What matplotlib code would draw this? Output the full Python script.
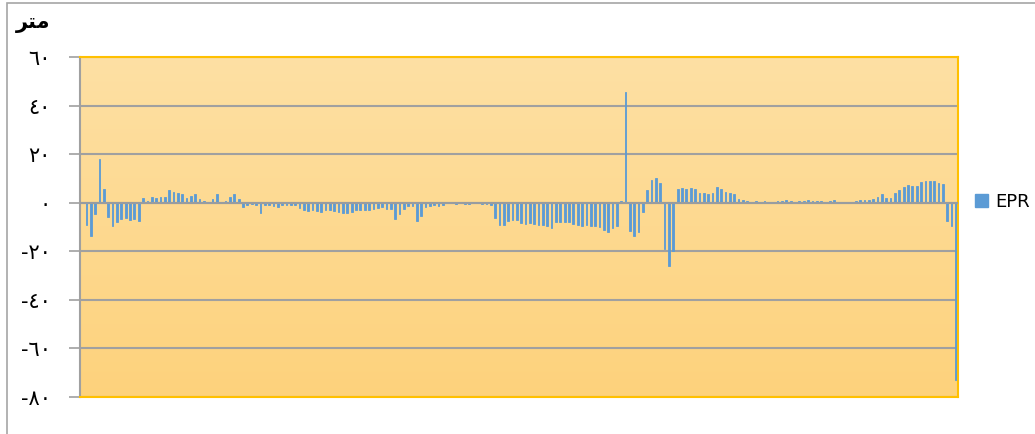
import numpy as np
import matplotlib
matplotlib.use('Agg')
import matplotlib.pyplot as plt
from matplotlib.patches import Patch, Rectangle
from matplotlib.colors import LinearSegmentedColormap

# EPR values per station (metres)
epr = [
  0.0, -9.0, -13.9, -4.6, 18.2, 5.8, -5.7, -9.5, -8.0, -6.9,
  -6.3, -7.0, -6.9, -7.6, 1.9, 0.8, 2.5, 1.8, 2.2, 2.2,
  5.4, 4.6, 4.1, 3.4, 1.8, 2.6, 3.6, 1.7, 0.5, 0.0,
  1.4, 3.6, 0.0, 0.5, 2.3, 3.7, 1.7, -1.8, -0.8, -0.7,
  -1.0, -4.1, -0.8, -0.8, -1.4, -1.8, -1.0, -0.8, -1.1, -0.8,
  -2.2, -2.9, -3.3, -2.9, -3.3, -3.9, -3.2, -3.2, -3.4, -3.9,
  -4.3, -4.3, -4.0, -3.2, -3.2, -3.0, -3.0, -2.5, -2.3, -1.8,
  -2.6, -2.6, -6.6, -4.6, -2.5, -1.5, -1.5, -7.6, -5.4, -1.8,
  -1.2, -0.8, -1.2, -1.1, 0.0, 0.0, -0.7, 0.0, -0.4, -0.5,
  0.0, 0.0, -0.4, -0.4, -0.8, -6.5, -9.2, -9.2, -7.6, -7.3,
  -7.3, -8.4, -8.7, -8.3, -8.7, -9.2, -9.2, -9.5, -10.3, -8.0,
  -8.0, -7.9, -8.0, -8.8, -9.1, -9.5, -9.1, -9.5, -9.5, -10.1,
  -11.4, -12.1, -10.5, -9.5, 0.6, 45.7, -11.7, -13.7, -12.1, -4.0,
  5.4, 9.4, 10.3, 8.3, -19.0, -26.2, -20.0, 5.5, 6.2, 5.8,
  6.2, 5.7, 4.1, 4.1, 3.7, 4.1, 6.5, 5.5, 4.6, 4.1,
  3.4, 1.7, 1.2, 0.8, 0.4, 0.8, 0.4, 0.8, 0.4, 0.0,
  0.8, 0.8, 1.1, 0.8, 0.4, 0.7, 0.7, 1.0, 0.7, 0.7,
  0.8, 0.4, 0.8, 1.0, 0.3, 0.1, 0.1, 0.3, 0.7, 1.1,
  1.1, 1.1, 1.7, 2.2, 3.7, 1.8, 1.9, 3.9, 5.4, 6.3,
  7.3, 6.8, 6.8, 8.6, 9.1, 8.8, 8.8, 8.3, 7.6, -7.7,
  -9.4, -72.8,
]
series_name = 'EPR'
y_title = '\uFEAE\uFE98\uFEE3'   # "متر" in presentation forms, visual order
ytick_values = [-80, -60, -40, -20, 0, 20, 40, 60]
ytick_labels = ['-٨٠', '-٦٠', '-٤٠', '-٢٠', '٠', '٢٠', '٤٠', '٦٠']

plt.rcParams['font.family'] = ['DejaVu Sans']

W, H = 1035, 434
fig = plt.figure(figsize=(W / 100, H / 100), dpi=100)

# chart frame, runs off the right and bottom edges
fig.patches.append(Rectangle((7 / W, -0.2), 1.2, 1.2 - 3 / H,
                             transform=fig.transFigure, fill=False,
                             edgecolor='#A6A6A6', lw=1.2))

ax = fig.add_axes([80 / W, 1 - 397 / H, 878 / W, 340 / H])

x = np.arange(len(epr))
ax.set_xlim(-0.5, len(epr) - 0.5)
ax.set_ylim(-80, 60)

# vertical gradient for the plot area, light at the top
grad = np.linspace(0, 1, 256).reshape(-1, 1)
cmap = LinearSegmentedColormap.from_list('bg', ['#FEE0A4', '#FDD27C'])
ax.imshow(grad, cmap=cmap, aspect='auto', extent=[0, 1, 0, 1],
          origin='upper', transform=ax.transAxes, zorder=0)

# gridlines
for v in ytick_values:
  ax.axhline(v, color='#A0A0A0', lw=1.5, zorder=1)

# thin edge keeps every bar at least ~1.5 px wide
ax.bar(x, epr, width=0.4, color='#5B9BD5', edgecolor='#5B9BD5',
       linewidth=0.6, zorder=2)

# horizontal axis line at zero sits over the bars
ax.axhline(0, color='#989CA0', lw=1.5, zorder=3)

ax.set_xticks([])
ax.set_yticks(ytick_values)
ax.set_yticklabels(ytick_labels, fontsize=15)
ax.tick_params(axis='y', direction='out', length=8, width=1.2,
               color='#A0A0A0', pad=13)

for s in ['top', 'right', 'bottom']:
  ax.spines[s].set_color('#FFC000')
  ax.spines[s].set_linewidth(1.5)
ax.spines['left'].set_color('#A0A0A0')
ax.spines['left'].set_linewidth(1.5)

# unit label at top left
fig.text(16 / W, 1 - 23 / H, y_title, fontsize=15, fontweight='bold',
         ha='left', va='center')

# legend
fig.legend(handles=[Patch(color='#5B9BD5')], labels=[series_name],
           loc='center left', bbox_to_anchor=(968 / W, 1 - 202 / H),
           frameon=False, fontsize=13, handlelength=0.7, handleheight=0.7,
           handletextpad=0.4, borderaxespad=0)

fig.savefig('out.png', dpi=100)
